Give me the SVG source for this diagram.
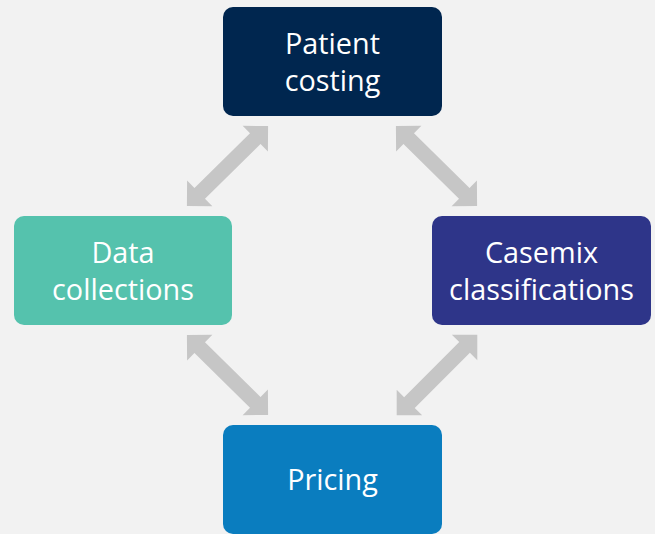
<svg xmlns="http://www.w3.org/2000/svg" width="655" height="534" viewBox="0 0 655 534">
  <defs>
    <style>
      .box { stroke: none; }
      .label { font-family: "Open Sans", "Noto Sans", "DejaVu Sans", sans-serif; font-size: 28.8px; fill: #ffffff; text-anchor: middle; }
      .arrow { fill: #c6c6c6; }
    </style>
    <!-- double-headed block arrow, 114 long along x, centred at origin -->
    <polygon id="dbl" points="-57,0 -39,-18 -39,-7.5 39,-7.5 39,-18 57,0 39,18 39,7.5 -39,7.5 -39,18"/>
  </defs>
  <rect width="655" height="534" fill="#f2f2f2"/>

  <g id="connectors">
    <use href="#dbl" class="arrow" transform="translate(227.5,166) rotate(-44.6)"/>
    <use href="#dbl" class="arrow" transform="translate(436.5,166) rotate(44.6)"/>
    <use href="#dbl" class="arrow" transform="translate(227.5,375) rotate(44.6)"/>
    <use href="#dbl" class="arrow" transform="translate(437,375) rotate(-45)"/>
  </g>

  <g id="patient-costing">
    <rect class="box" x="223" y="7" width="219" height="109" rx="10" fill="#00264f"/>
    <text class="label" x="332.5" y="54">Patient</text>
    <text class="label" x="332.5" y="91">costing</text>
  </g>

  <g id="data-collections">
    <rect class="box" x="14" y="216" width="218" height="109" rx="10" fill="#55c2ad"/>
    <text class="label" x="123" y="263">Data</text>
    <text class="label" x="123" y="300">collections</text>
  </g>

  <g id="casemix-classifications">
    <rect class="box" x="432" y="216" width="219" height="109" rx="10" fill="#2e3589"/>
    <text class="label" x="541.5" y="263">Casemix</text>
    <text class="label" x="541.5" y="300">classifications</text>
  </g>

  <g id="pricing">
    <rect class="box" x="223" y="425" width="219" height="109" rx="10" fill="#0a7dbf"/>
    <text class="label" x="332.5" y="490">Pricing</text>
  </g>
</svg>
